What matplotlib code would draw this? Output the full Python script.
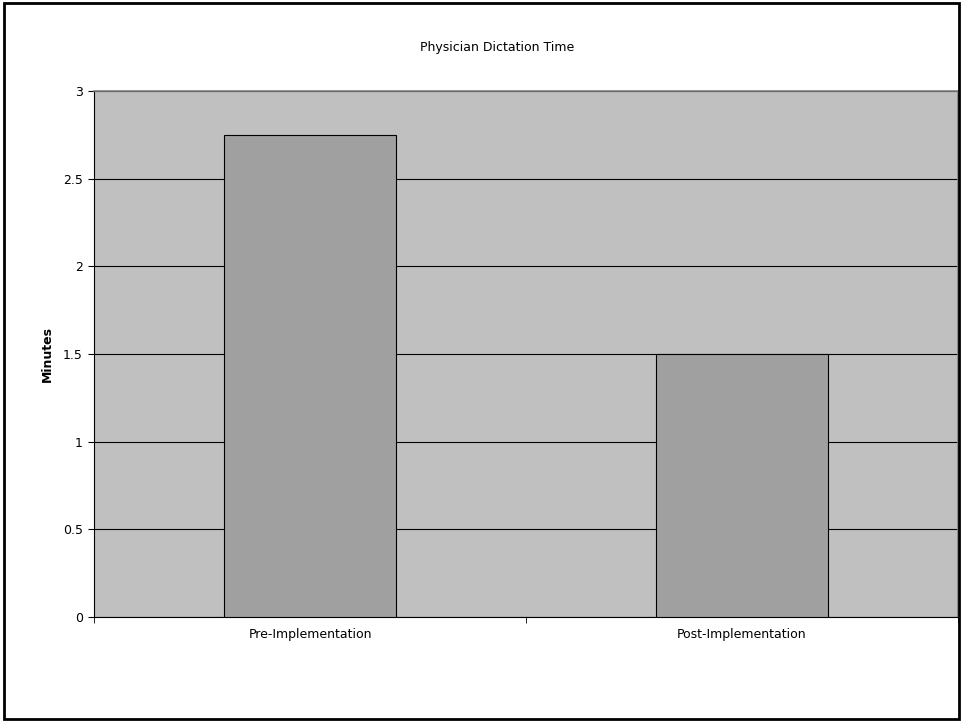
import matplotlib
matplotlib.use('Agg')
from matplotlib import pyplot as plt
from matplotlib.patches import Rectangle

categories = ['Pre-Implementation', 'Post-Implementation']
minutes = [2.75, 1.5]
yticks = [0, 0.5, 1, 1.5, 2, 2.5, 3]

plt.rcParams['font.family'] = ['DejaVu Sans']

fig = plt.figure(figsize=(9.61, 7.21), dpi=100)
ax = fig.add_axes([94 / 961, 1 - 617 / 721, 864 / 961, 526 / 721])
ax.set_facecolor('#C0C0C0')

x = list(range(len(categories)))
ax.bar(x, minutes, width=0.4, color='#A0A0A0', edgecolor='black', linewidth=0.8, zorder=3)

ax.set_xlim(-0.5, len(categories) - 0.5)
ax.set_ylim(0, 3)
ax.set_yticks(yticks)
ax.set_yticklabels([f'{v:g}' for v in yticks], fontsize=9)
ax.yaxis.grid(True, color='black', linewidth=0.8, zorder=0)
ax.set_axisbelow(True)

# category labels centred, ticks on the category boundaries
ax.set_xticks(x)
ax.set_xticklabels(categories, fontsize=9)
ax.tick_params(axis='x', length=0, pad=8)
ax.set_xticks([-0.5, 0.5, 1.5], minor=True)
ax.tick_params(axis='x', which='minor', length=4, direction='out', color='black')
ax.tick_params(axis='y', length=4, direction='out', pad=4)

for side in ['left', 'bottom']:
    ax.spines[side].set_color('black')
    ax.spines[side].set_linewidth(0.8)
for side in ['top', 'right']:
    ax.spines[side].set_color('#808080')
    ax.spines[side].set_linewidth(1.2)

fig.text(47 / 961, 1 - 354 / 721, 'Minutes', rotation=90, ha='center', va='center',
         fontsize=9, fontweight='bold')
fig.text(497 / 961, 1 - 47 / 721, 'Physician Dictation Time', ha='center', va='center', fontsize=9)

fig.patches.append(Rectangle((4 / 961, 2 / 721), 955 / 961, 716 / 721, transform=fig.transFigure,
                             fill=False, edgecolor='black', linewidth=2))

fig.savefig('out.png', dpi=100)
